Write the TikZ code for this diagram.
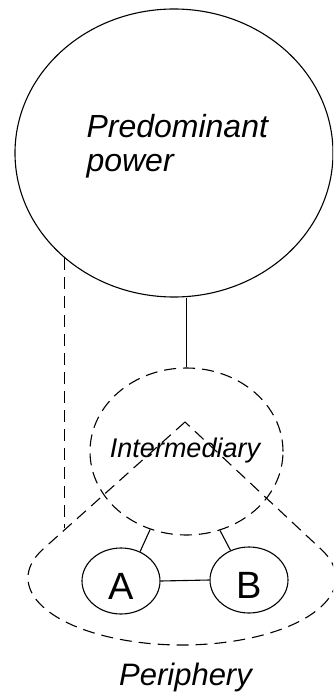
\documentclass[tikz,border=0pt]{standalone}
\usepackage{fontspec}
\setmainfont{Liberation Sans}
\usetikzlibrary{shapes.geometric}
\begin{document}
\begin{tikzpicture}[x=1pt,y=-1pt,line width=1.1pt,
  dsh/.style={dash pattern=on 12pt off 7pt},
  oval/.style={draw,ellipse,inner sep=0pt},
  letter/.style={text height=36pt,text depth=0pt,font=\fontsize{38}{38}\selectfont},
  lbl/.style={inner sep=0pt}]
\useasboundingbox (0,0) rectangle (333,692);
\clip (0,0) rectangle (333,692);
% ovals
\node[oval,minimum width=318pt,minimum height=288pt] (big) at (174,153) {};
\node[oval,dsh,minimum width=193pt,minimum height=167pt] (inter) at (186.5,451.5) {};
\node[oval,letter,minimum width=78pt,minimum height=66pt] (A) at (121,581) {A};
\node[oval,letter,minimum width=78pt,minimum height=66pt] (B) at (249,580) {B};
% periphery outline
\coordinate (apex) at (185,422);
\coordinate (pl) at (66.7,527.9);
\draw[dsh] (apex) -- (43.5,548.7)
  arc[start angle=-154.07,end angle=-385.29,x radius=154,y radius=67] -- cycle;
% connectors
\draw (inter.north) -- (inter.north |- big.south);
\draw[dsh] (big.224.7) -- (big.224.7 |- pl);
\draw (A.east) -- (B.west);
\draw (inter.245) -- (A.57.6);
\draw (inter.293) -- (B.122);
% texts
\node[lbl,anchor=base west,font=\itshape\fontsize{32}{34}\selectfont] (t1) at (86,138) {Predominant};
\node[lbl,anchor=base west,font=\itshape\fontsize{32}{34}\selectfont] (t2) at (86,172) {power};
\node[lbl,anchor=base,font=\itshape\fontsize{27}{27}\selectfont] (ti) at (185,457) {Intermediary};
\node[lbl,anchor=base,font=\itshape\fontsize{31}{31}\selectfont] (tp) at (185.5,685) {Periphery};
\end{tikzpicture}
\end{document}
